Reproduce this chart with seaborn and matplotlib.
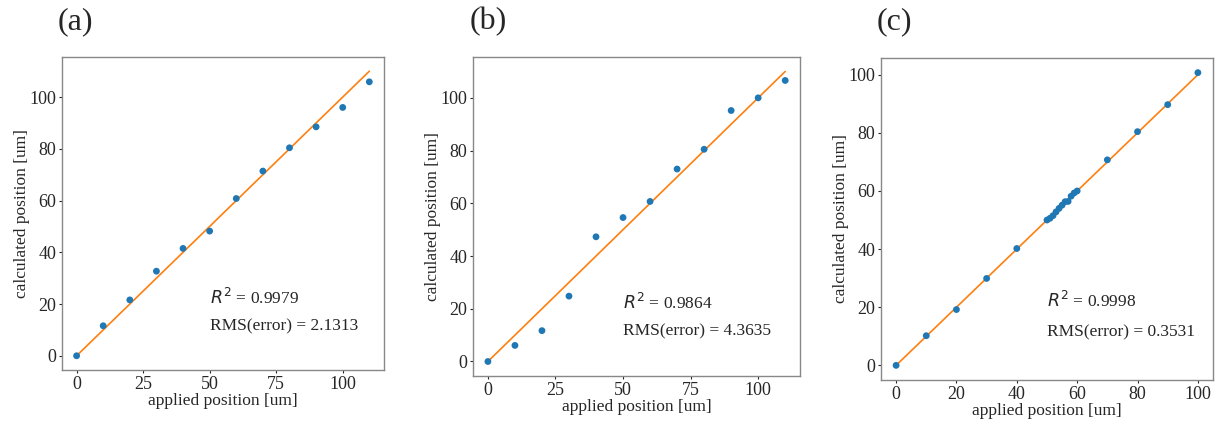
import numpy as np
import pandas as pd
import matplotlib
matplotlib.use("Agg")
import matplotlib.pyplot as plt
import seaborn as sns

# panel (a)
applied_a = [0, 10, 20, 30, 40, 50, 60, 70, 80, 90, 100, 110]
calc_a = [0, 11.6, 21.6, 32.7, 41.5, 48.2, 60.8, 71.4, 80.4, 88.5, 96.0, 105.9]
# panel (b)
applied_b = [0, 10, 20, 30, 40, 50, 60, 70, 80, 90, 100, 110]
calc_b = [0, 6.1, 11.7, 24.8, 47.3, 54.6, 60.7, 73.0, 80.5, 95.2, 100.0, 106.6]
# panel (c)
applied_c = [0, 10, 20, 30, 40, 50, 51, 52, 53, 54, 55, 56, 57, 58, 59, 60, 70, 80, 90, 100]
calc_c = [0, 10.2, 19.2, 29.9, 40.2, 50.0, 50.6, 51.5, 52.8, 54.0, 55.1, 56.3, 56.4, 58.2, 59.3, 60.0,
          70.7, 80.4, 89.7, 100.7]

labels = ["(a)", "(b)", "(c)"]
r2_texts = ["0.9979", "0.9864", "0.9998"]
rms_texts = ["2.1313", "4.3635", "0.3531"]
x_ticks = [[0, 25, 50, 75, 100], [0, 25, 50, 75, 100], [0, 20, 40, 60, 80, 100]]
y_ticks = [[0, 20, 40, 60, 80, 100], [0, 20, 40, 60, 80, 100], [0, 20, 40, 60, 80, 100]]

sns.set_style("ticks")
plt.rcParams["font.family"] = ["Liberation Serif", "DejaVu Serif"]
plt.rcParams["mathtext.fontset"] = "dejavusans"

fig = plt.figure(figsize=(12.17, 4.25), dpi=100)
rects = [
    [0.0509, 0.1294, 0.2646, 0.7365],
    [0.3887, 0.1153, 0.2687, 0.7506],
    [0.7239, 0.1059, 0.2728, 0.7576],
]
label_x = [75 / 1217, 488 / 1217, 894 / 1217]

data = [(applied_a, calc_a), (applied_b, calc_b), (applied_c, calc_c)]

for i, (xs, ys) in enumerate(data):
    ax = fig.add_axes(rects[i])
    df = pd.DataFrame({"applied": xs, "calculated": ys})
    ideal = pd.DataFrame({"applied": [xs[0], xs[-1]], "calculated": [xs[0], xs[-1]]})
    sns.lineplot(data=ideal, x="applied", y="calculated", color="#ff7f0e", lw=1.2, ax=ax, zorder=1)
    sns.scatterplot(data=df, x="applied", y="calculated", color="#1f77b4", s=24,
                    edgecolor="none", ax=ax, zorder=2)
    ax.set_xticks(x_ticks[i])
    ax.set_yticks(y_ticks[i])
    ax.tick_params(labelsize=13, length=2.5, width=0.8, pad=1.5)
    ax.set_xlabel("applied position [um]", fontsize=12.5, labelpad=0)
    ax.set_ylabel("calculated position [um]", fontsize=12.5, labelpad=0)
    for sp in ax.spines.values():
        sp.set_visible(True)
        sp.set_color("#888888")
        sp.set_linewidth(1.0)
    ax.text(50, 20, r"$R^2$ = " + r2_texts[i], fontsize=12.5)
    ax.text(50, 10, "RMS(error) = " + rms_texts[i], fontsize=12.5)
    fig.text(label_x[i], 1 - 22 / 425, labels[i], fontsize=23, ha="center", va="center")

fig.savefig("out.png", dpi=100)
